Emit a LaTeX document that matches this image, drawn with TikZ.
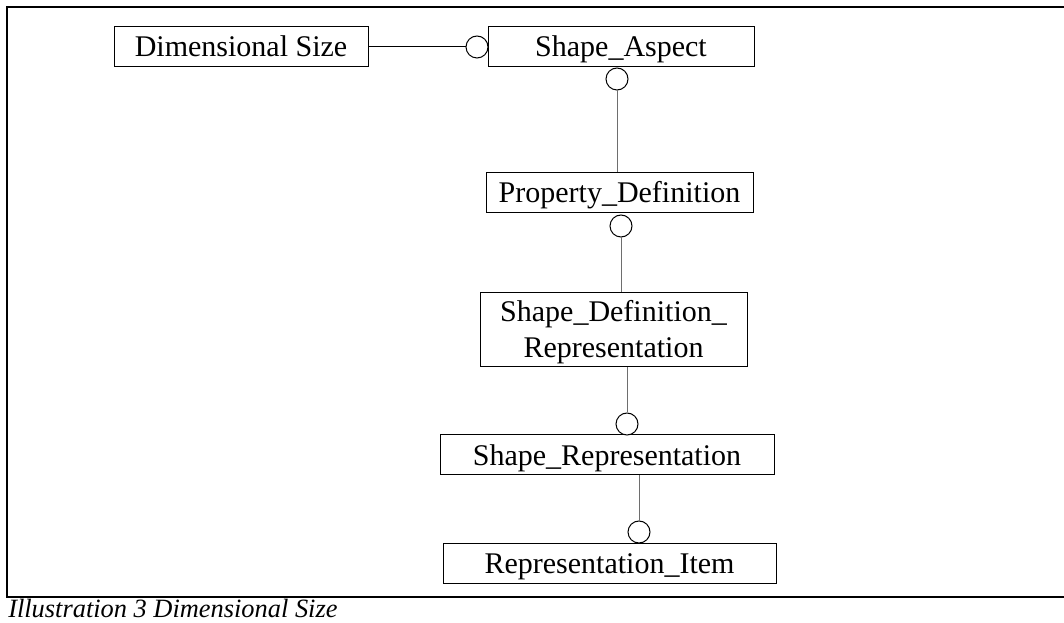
\documentclass[tikz,border=0pt]{standalone}
\usepackage{fontspec}
\setmainfont{Liberation Serif}
\usepackage{tikz}
\usetikzlibrary{positioning}
\definecolor{linkgray}{RGB}{110,110,110}
\tikzstyle{entity} = [draw, line width=0.75pt, inner sep=0pt, align=center, font=\fontsize{22.5}{27}\selectfont, minimum height=30pt, text height=17pt, text depth=2pt]
\tikzstyle{ring} = [draw, circle, line width=0.75pt, fill=white, minimum size=16.5pt, inner sep=0pt]
\tikzstyle{link} = [line width=0.75pt, color=linkgray]

\begin{document}
\begin{tikzpicture}[x=0.75pt, y=-0.75pt]
\useasboundingbox (0,0) rectangle (1064,623);
% frame
\draw[line width=1.5pt] (1064,7) -- (7,7) -- (7,597) -- (1064,597);
% entities
\node[entity, minimum width=190.5pt] (dimsize) at (241,47) {Dimensional Size};
\node[entity, minimum width=199.5pt] (aspect) at (621,47) {Shape\_Aspect};
\node[entity, minimum width=200.25pt] (propdef) at (619.5,193) {Property\_Definition};
\node[entity, minimum width=200.25pt, minimum height=55.5pt, text height=44pt] (sdr) at (613.5,330) {Shape\_Definition\_\\Representation};
\node[entity, minimum width=250.5pt] (shaperep) at (607,455) {Shape\_Representation};
\node[entity, minimum width=249.75pt] (repitem) at (609.5,563) {Representation\_Item};
% rings
\node[ring] (r1) at (477,47) {};
\node[ring] (r2) at (617,79) {};
\node[ring] (r3) at (621,226) {};
\node[ring] (r4) at (627,424) {};
\node[ring] (r5) at (639,532) {};
% links
\draw[line width=0.75pt] (dimsize) -- (r1);
\draw[link] (r2) -- (r2 |- propdef.north);
\draw[link] (r3) -- (r3 |- sdr.north);
\draw[link] (sdr.south -| r4) -- (r4);
\draw[link] (shaperep.south -| r5) -- (r5);
% caption
\node[anchor=base west, inner sep=0pt, font=\fontsize{19.8}{24}\selectfont\itshape] (caption) at (8,617) {Illustration 3 Dimensional Size};
\end{tikzpicture}
\end{document}
